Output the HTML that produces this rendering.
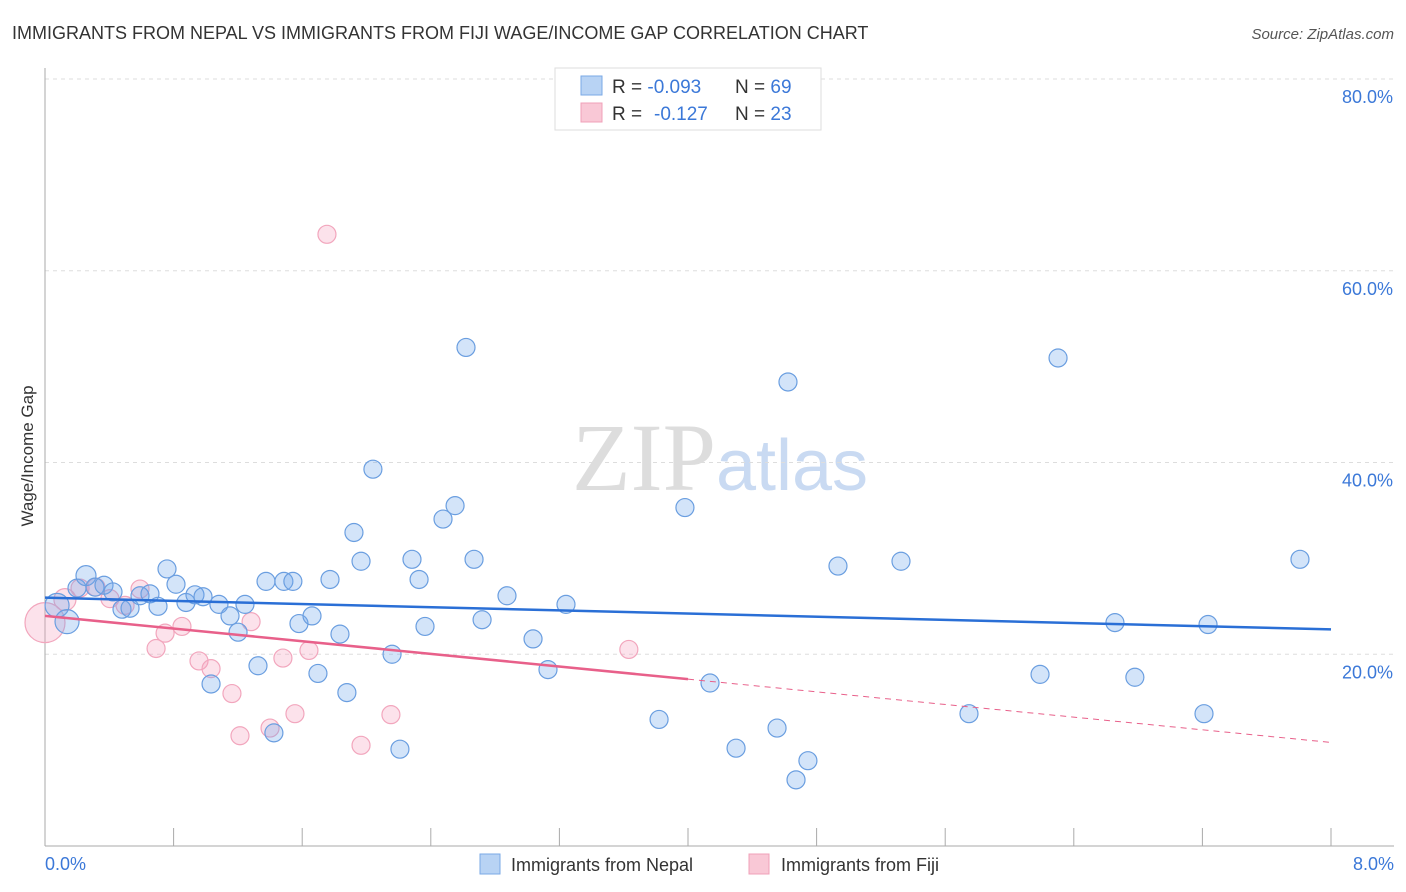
<!DOCTYPE html>
<html><head><meta charset="utf-8"><style>
body{margin:0;background:#fff;font-family:"Liberation Sans",sans-serif}
svg{display:block}
</style></head><body>
<svg id="chart" width="1406" height="892" xmlns="http://www.w3.org/2000/svg" font-family="Liberation Sans, sans-serif">
<text x="12" y="39" font-size="18" fill="#333">IMMIGRANTS FROM NEPAL VS IMMIGRANTS FROM FIJI WAGE/INCOME GAP CORRELATION CHART</text>
<text x="1394" y="39" font-size="15" fill="#555" text-anchor="end" font-style="italic">Source: ZipAtlas.com</text>
<text x="720" y="490" font-size="96" text-anchor="middle" fill="#ddd" font-family="Liberation Serif, serif">ZIP<tspan fill="#c9daf2" font-family="Liberation Sans, sans-serif" font-size="72">atlas</tspan></text>
<g id="grid"></g>
<g id="axes"></g>
<g id="marks"></g>
<text transform="translate(33,456) rotate(-90)" font-size="17" fill="#333" text-anchor="middle">Wage/Income Gap</text>
<g>
<rect x="555" y="68" width="266" height="62" fill="#fff" stroke="#ddd"/>
<rect x="581" y="76" width="21" height="19" fill="#b8d3f4" stroke="#7aa8e6"/>
<rect x="581" y="103" width="21" height="19" fill="#f9c8d6" stroke="#f0a0b8"/>
<text x="612" y="93" font-size="19" fill="#333">R = <tspan fill="#3b78d8">-0.093</tspan><tspan x="735">N = </tspan><tspan fill="#3b78d8">69</tspan></text>
<text x="612" y="120" font-size="19" fill="#333">R = <tspan x="654" fill="#3b78d8">-0.127</tspan><tspan x="735">N = </tspan><tspan fill="#3b78d8">23</tspan></text>
</g>
<g>
<rect x="480" y="854" width="20" height="20" fill="#b8d3f4" stroke="#7aa8e6"/>
<text x="511" y="871" font-size="18" fill="#333">Immigrants from Nepal</text>
<rect x="749" y="854" width="20" height="20" fill="#f9c8d6" stroke="#f0a0b8"/>
<text x="781" y="871" font-size="18" fill="#333">Immigrants from Fiji</text>
</g>
</svg>
<script>
const nepalX=[0.075,0.137,0.199,0.255,0.311,0.367,0.423,0.479,0.529,0.591,0.653,0.703,0.759,0.815,0.877,0.933,0.983,1.033,1.082,1.151,1.201,1.244,1.325,1.375,1.424,1.486,1.542,1.580,1.661,1.698,1.773,1.835,1.878,1.922,1.966,2.040,2.159,2.208,2.283,2.327,2.364,2.476,2.551,2.619,2.669,2.719,2.874,3.036,3.129,3.241,3.820,3.981,4.137,4.299,4.554,4.622,4.672,4.746,4.933,5.325,5.748,6.190,6.302,6.656,6.780,7.210,7.235,7.807];
const nepalY=[25.1,23.4,26.9,28.2,27.0,27.2,26.5,24.7,24.8,26.1,26.3,25.0,28.9,27.3,25.4,26.2,26.0,16.9,25.2,24.0,22.3,25.2,18.8,27.6,11.8,27.6,27.6,23.2,24.0,18.0,27.8,22.1,16.0,32.7,29.7,39.3,20.0,10.1,29.9,27.8,22.9,34.1,35.5,52.0,29.9,23.6,26.1,21.6,18.4,25.2,13.2,35.3,17.0,10.2,12.3,48.4,6.9,8.9,29.2,29.7,13.8,17.9,50.9,23.3,17.6,13.8,23.1,29.9];
const fijiX=[0.0,0.124,0.218,0.317,0.404,0.498,0.591,0.691,0.747,0.852,0.958,1.033,1.163,1.213,1.282,1.400,1.480,1.555,1.642,1.754,1.966,2.152,3.632];
const fijiY=[23.3,25.7,26.9,27.0,25.8,25.1,26.8,20.6,22.2,22.9,19.3,18.5,15.9,11.5,23.4,12.3,19.6,13.8,20.4,63.8,10.5,13.7,20.5];
const nepalTrend=[25.9,22.6];
const fijiTrend=[24.0,10.8];
const fijiSolidEnd=4.0;
const yTicks=[20,40,60,80];
const xTickLabels=["0.0%","8.0%"];
const NS="http://www.w3.org/2000/svg";
const X0=45,X1=1331,Y0=846,Y80=79;
const sx=v=>X0+(v/8)*(X1-X0);
const sy=v=>Y0-(v/80)*(Y0-Y80);
function mk(tag,attrs,parent){const e=document.createElementNS(NS,tag);for(const k in attrs)e.setAttribute(k,attrs[k]);parent.appendChild(e);return e;}
const grid=document.getElementById('grid'),axes=document.getElementById('axes'),marks=document.getElementById('marks');
yTicks.forEach(t=>{
 const l=mk('line',{x1:45,x2:1394,y1:sy(t),y2:sy(t),stroke:'#ddd','stroke-dasharray':'4,4'},grid);
 
 
 const tx=mk('text',{x:1393,y:sy(t)+24,'font-size':18,fill:'#3b78d8','text-anchor':'end'},axes);
 tx.textContent=t.toFixed(1)+'%';
 
 
});
const ya=mk('line',{x1:45,x2:45,y1:68,y2:846,stroke:'#aaa'},axes);


const xa=mk('line',{x1:45,x2:1394,y1:846,y2:846,stroke:'#aaa'},axes);


for(let i=0;i<=10;i++){
 const t=mk('line',{x1:sx(i*0.8),x2:sx(i*0.8),y1:828,y2:846,stroke:'#aaa'},axes);
 
 
}
[[0,'start',45],[8,'end',1394]].forEach((d,i)=>{
 const tx=mk('text',{x:d[2],y:870,'font-size':18,fill:'#3b78d8','text-anchor':d[1]},axes);
 tx.textContent=xTickLabels[i];
 
 
});
function pts(xs,ys,fill,stroke,name,bigIdx){
 xs.forEach((x,i)=>{
  let r=9; if(bigIdx[i])r=bigIdx[i];
  const c=mk('circle',{cx:sx(x),cy:sy(ys[i]),r:r,fill:fill,stroke:stroke,'stroke-width':1.2},marks);
  
  
 });
}
pts(fijiX,fijiY,'rgba(244,160,188,0.3)','#f2a6bd','fiji-point',{0:20,1:11});
pts(nepalX,nepalY,'rgba(110,165,235,0.3)','#6a9ee0','nepal-point',{0:12,1:12,3:10});
const bl=mk('line',{x1:sx(0),y1:sy(nepalTrend[0]),x2:sx(8),y2:sy(nepalTrend[1]),stroke:'#2a6fd6','stroke-width':2.5},marks);


const fy=x=>fijiTrend[0]+(fijiTrend[1]-fijiTrend[0])*x/8;
const pl=mk('line',{x1:sx(0),y1:sy(fy(0)),x2:sx(fijiSolidEnd),y2:sy(fy(fijiSolidEnd)),stroke:'#e8608a','stroke-width':2.5},marks);


const pd=mk('line',{x1:sx(fijiSolidEnd),y1:sy(fy(fijiSolidEnd)),x2:sx(8),y2:sy(fy(8)),stroke:'#e8608a','stroke-width':1,'stroke-dasharray':'6,5'},marks);


</script>
</body></html>
